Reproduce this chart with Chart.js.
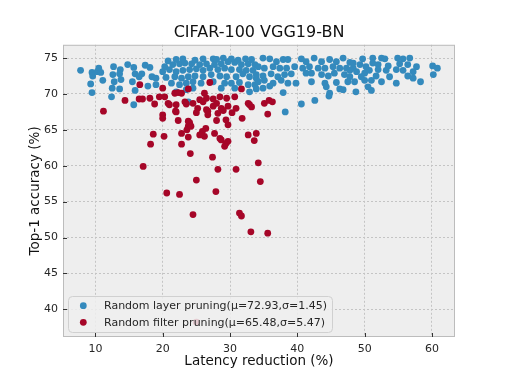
<!DOCTYPE html>
<html>
<head>
<meta charset="utf-8">
<script src="https://cdn.jsdelivr.net/npm/chart.js@4.4.0/dist/chart.umd.min.js"></script>
<style>
    body { margin: 0; background: #ffffff; }
    #wrap { width: 506px; height: 379px; }
</style>
</head>
<body>
<div id="wrap"><canvas id="myChart" width="506" height="379"></canvas></div>
<script>
// [latency reduction %, top-1 accuracy %]
const layerPruning = [
    [7.8,73.3],[9.5,73.0],[9.6,72.5],[10.5,73.6],[10.3,73.1],[10.8,73.0],[11.1,71.9],[9.3,71.4],[9.5,70.2],
    [12.7,73.8],[12.6,72.7],[13.7,73.4],[13.6,72.8],[12.8,71.7],[13.8,72.0],[12.5,70.8],[13.6,70.7],[12.4,69.6],
    [14.8,74.1],[15.7,73.7],[15.9,72.8],[16.9,72.8],[16.5,72.4],[15.5,71.7],[15.9,70.5],[17.4,74.0],[18.1,73.7],
    [18.4,72.4],[19.0,72.2],[17.8,71.1],[19.0,71.3],[15.7,68.5],
    [20.3,73.8],[21.5,74.1],[22.5,74.2],[23.3,74.3],[24.3,74.2],[25.5,74.1],[26.5,74.2],[27.5,74.9],[27.7,74.1],
    [28.7,74.2],[29.7,74.5],[30.7,74.4],[31.7,74.1],[32.7,74.2],[33.7,74.1],
    [20.0,73.1],[21.0,73.4],[22.0,73.1],[23.0,73.3],[24.0,73.4],[25.0,73.5],[26.0,73.3],[27.0,73.6],[28.2,73.4],
    [29.2,73.6],[30.2,73.4],[31.4,73.4],[32.4,73.3],[33.4,73.3],
    [20.5,72.3],[21.8,72.4],[22.8,72.2],[23.8,72.4],[24.8,72.5],[26.0,72.4],[27.2,72.7],[28.5,72.5],[29.5,72.4],
    [30.9,72.4],[31.9,72.8],[32.9,72.4],[33.9,72.2],
    [21.3,71.5],[22.5,71.3],[23.5,71.5],[24.5,71.7],[25.7,71.5],[27.5,71.7],[29.2,71.5],[30.2,71.5],[31.4,71.6],
    [32.7,71.3],[33.7,71.3],
    [22.0,70.3],[23.5,70.6],[24.5,70.8],[28.7,70.8],[30.7,70.8],[32.9,70.3],[23.8,68.9],
    [20.8,74.6],[22.0,74.8],[23.0,74.9],[24.8,74.7],[26.0,74.9],[28.0,74.8],[29.0,75.0],[30.2,74.9],[31.2,74.7],
    [32.3,74.9],[33.2,74.8],
    [34.9,75.0],[35.9,74.9],[36.9,74.5],[37.9,74.8],[38.6,74.8],[40.6,74.9],[41.3,74.5],[42.5,75.0],[43.6,74.5],
    [44.8,74.8],[45.8,74.5],[46.8,75.0],[47.8,74.4],
    [34.2,73.8],[35.1,73.6],[36.4,73.8],[37.4,73.6],[38.4,73.6],[39.6,73.8],[40.8,73.6],[41.8,73.8],[43.1,73.6],
    [44.1,73.6],[45.3,73.8],[46.3,73.6],[47.3,73.6],[48.3,73.6],
    [33.9,72.7],[34.9,72.5],[36.1,72.8],[37.1,72.4],[38.1,72.7],[39.1,72.8],[41.3,72.9],[42.1,72.9],[43.6,72.7],
    [44.6,72.5],[45.5,72.9],[47.0,72.7],[47.8,72.4],
    [34.2,71.7],[35.1,71.9],[36.4,71.5],[37.6,71.9],[38.6,71.5],[39.8,71.5],[42.1,71.7],[44.1,71.5],[45.8,71.6],
    [47.5,71.7],
    [33.9,70.7],[34.9,70.8],[35.9,71.1],[37.9,70.2],[44.3,71.0],[44.8,70.1],[46.3,70.7],[46.8,70.6],
    [40.6,68.6],[42.6,69.1],[38.2,67.5],[44.7,69.7],
    [49.7,74.9],[51.2,75.0],[52.5,75.0],[53.0,74.9],[54.9,75.0],[55.7,74.9],[56.7,75.0],
    [48.3,74.3],[49.3,74.1],[50.2,73.8],[51.2,74.3],[52.0,74.1],[53.5,73.9],[55.2,74.2],[56.4,74.1],[57.7,73.8],
    [47.8,73.3],[48.8,73.1],[50.0,72.9],[50.7,73.3],[52.0,73.4],[53.2,73.3],[54.7,73.4],[55.7,73.3],[57.2,73.1],
    [60.1,73.9],[60.8,73.6],[60.2,72.7],
    [48.5,71.7],[50.0,71.9],[51.0,71.9],[52.5,71.7],[54.7,71.5],[57.2,72.2],[58.3,71.7],
    [48.7,70.3],[50.5,71.0],[51.0,70.5],
    [49.5,72.4],[51.7,72.5],[53.7,72.4],[56.4,72.5]
];

const filterPruning = [
    [16.6,71.3],[11.2,67.6],[14.4,69.1],[16.5,69.3],[17.0,69.3],[18.1,69.4],[18.8,68.6],[19.5,69.6],
    [20.0,70.8],[20.3,69.6],[21.8,70.1],[22.8,70.1],[23.8,70.7],[27.0,71.6],[26.2,70.1],[31.7,70.7],
    [20.8,68.7],[22.0,68.5],[23.3,68.9],[24.5,68.7],[25.5,69.2],[26.5,69.4],[27.5,69.3],[28.5,69.6],[29.5,69.4],[30.7,69.6],
    [25.2,68.0],[26.5,67.8],[27.5,68.3],[28.7,68.0],[29.7,68.3],[30.9,68.0],[32.9,68.5],[20.0,67.1],
    [22.3,70.2],[21.0,68.5],[22.0,67.5],[23.5,68.6],[26.0,68.9],[26.7,67.6],[28.0,68.7],[29.0,67.7],[30.3,67.4],[33.2,68.2],
    [32.7,68.7],[35.1,68.7],[35.8,69.1],[36.3,68.9],[35.6,67.2],
    [20.0,66.6],[22.3,66.3],[23.8,66.2],[23.8,65.5],[24.0,66.0],[23.6,65.0],[28.0,66.3],[29.4,66.4],[29.7,65.7],[31.8,66.6],
    [25.0,67.4],[26.7,67.1],[28.2,67.3],[21.9,67.6],[24.2,65.5],
    [18.6,64.4],[20.2,64.1],[22.8,64.5],[23.8,64.0],[26.4,65.2],[25.9,64.8],[26.2,64.1],[25.5,64.3],[27.7,64.5],
    [28.5,63.8],[28.7,63.6],[29.4,63.1],[29.7,63.4],[29.2,62.7],[32.7,64.3],[33.9,64.5],[33.6,63.5],
    [18.2,63.0],[22.8,63.0],[24.1,61.7],[27.4,61.2],[17.1,59.9],[28.2,59.5],[30.9,59.5],[34.2,60.4],[34.5,57.8],[25.0,58.0],
    [27.9,56.4],[20.6,56.2],[22.5,56.0],[24.5,53.2],[31.4,53.4],[31.7,53.0],[33.1,50.8],[35.6,50.6],[25.0,38.2]
];

const xTicks = [10, 20, 30, 40, 50, 60];
const yTicks = [40, 45, 50, 55, 60, 65, 70, 75];
const seriesLabels = ['Random layer pruning(\u03bc=72.93,\u03c3=1.45)', 'Random filter pruning(\u03bc=65.48,\u03c3=5.47)'];
const seriesColors = ['#348ABD', '#A60628'];

const FONT = 'DejaVu Sans';

// gray axes background, full frame, inward tick marks, legend box inside the plot
const axesPlugin = {
    id: 'axesStyle',
    beforeDraw(chart) {
        const { ctx, chartArea: a } = chart;
        ctx.save();
        ctx.fillStyle = '#eeeeee';
        ctx.fillRect(a.left, a.top, a.right - a.left, a.bottom - a.top);
        ctx.restore();
    },
    afterDatasetsDraw(chart) {
        const { ctx, chartArea: a, scales } = chart;
        ctx.save();
        ctx.strokeStyle = '#bcbcbc';
        ctx.lineWidth = 1;
        ctx.strokeRect(a.left + 0.5, a.top + 0.5, a.right - a.left - 1, a.bottom - a.top - 1);

        ctx.strokeStyle = '#333333';
        ctx.beginPath();
        xTicks.forEach(v => {
            const px = Math.round(scales.x.getPixelForValue(v)) + 0.5;
            ctx.moveTo(px, a.bottom);
            ctx.lineTo(px, a.bottom - 4);
        });
        yTicks.forEach(v => {
            const py = Math.round(scales.y.getPixelForValue(v)) + 0.5;
            ctx.moveTo(a.left, py);
            ctx.lineTo(a.left + 4, py);
        });
        ctx.stroke();

        // legend
        const lx = 68, ly = 296, lw = 264, lh = 36;
        ctx.beginPath();
        ctx.roundRect(lx + 0.5, ly + 0.5, lw, lh, 4);
        ctx.fillStyle = 'rgba(238,238,238,0.85)';
        ctx.fill();
        ctx.strokeStyle = '#d0d0d0';
        ctx.stroke();

        ctx.font = '11px "' + FONT + '"';
        ctx.textBaseline = 'middle';
        ctx.textAlign = 'left';
        seriesLabels.forEach((label, i) => {
            const cy = 305.7 + i * 16.6;
            ctx.beginPath();
            ctx.arc(83.3, cy, 3.4, 0, Math.PI * 2);
            ctx.fillStyle = seriesColors[i];
            ctx.fill();
            ctx.fillStyle = '#262626';
            ctx.fillText(label, 104, cy + 0.5);
        });
        ctx.restore();
    }
};

const gridOpts = {
    color: '#c4c4c4',
    lineWidth: 1,
    drawTicks: false
};

const ctx = document.getElementById('myChart').getContext('2d');
const myChart = new Chart(ctx, {
    type: 'scatter',
    data: {
        datasets: [
            {
                label: seriesLabels[0],
                data: layerPruning.map(p => ({ x: p[0], y: p[1] })),
                backgroundColor: seriesColors[0],
                borderWidth: 0,
                pointRadius: 3.4,
                order: 1
            },
            {
                label: seriesLabels[1],
                data: filterPruning.map(p => ({ x: p[0], y: p[1] })),
                backgroundColor: seriesColors[1],
                borderWidth: 0,
                pointRadius: 3.4,
                order: 0
            }
        ]
    },
    options: {
        responsive: false,
        animation: false,
        layout: { padding: { left: 12, right: 0, top: 0, bottom: 0 } },
        scales: {
            x: {
                type: 'linear',
                min: 5.19,
                max: 63.42,
                afterBuildTicks: (scale) => { scale.ticks = xTicks.map(v => ({ value: v })); },
                afterFit: (scale) => { scale.height = 42; },
                grid: gridOpts,
                border: { display: false, dash: [2, 2] },
                ticks: { color: '#262626', padding: 6, font: { family: FONT, size: 11 } },
                title: {
                    display: true,
                    text: 'Latency reduction (%)',
                    color: '#111111',
                    font: { family: FONT, size: 13.5 },
                    padding: { top: 0, bottom: 9 }
                }
            },
            y: {
                type: 'linear',
                min: 36.14,
                max: 76.85,
                afterBuildTicks: (scale) => { scale.ticks = yTicks.map(v => ({ value: v })); },
                afterFit: (scale) => { scale.width = 51; },
                grid: gridOpts,
                border: { display: false, dash: [2, 2] },
                ticks: { color: '#262626', padding: 5, font: { family: FONT, size: 11 } },
                title: {
                    display: true,
                    text: 'Top-1 accuracy (%)',
                    color: '#111111',
                    font: { family: FONT, size: 13.5 },
                    padding: { top: 15, bottom: 0 }
                }
            },
            // empty right-hand margin so the title centres over the axes
            yRight: {
                type: 'linear',
                position: 'right',
                min: 0,
                max: 1,
                grid: { display: false, drawTicks: false },
                border: { display: false },
                ticks: { display: false },
                afterFit: (scale) => { scale.width = 51; }
            }
        },
        plugins: {
            legend: { display: false },
            tooltip: { enabled: false },
            title: {
                display: true,
                text: 'CIFAR-100 VGG19-BN',
                color: '#111111',
                font: { family: FONT, size: 16, weight: 'normal' },
                padding: { top: 23, bottom: 2.6 }
            }
        }
    },
    plugins: [axesPlugin]
});
</script>
</body>
</html>
